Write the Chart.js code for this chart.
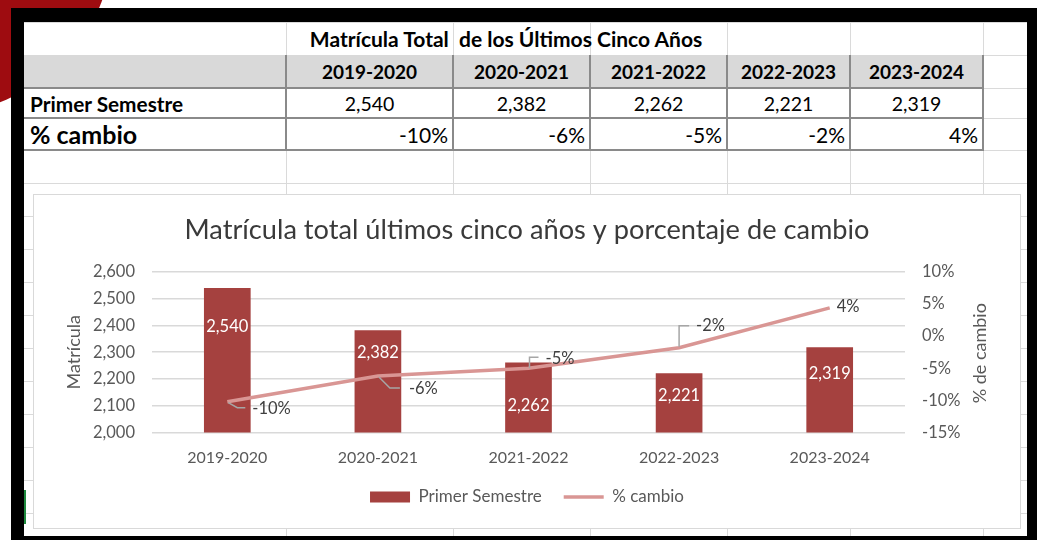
<!DOCTYPE html>
<html>
<head>
<meta charset="utf-8">
<script src="https://cdn.jsdelivr.net/npm/chart.js@4.4.1/dist/chart.umd.min.js"></script>
<style>
  html, body { margin:0; padding:0; width:1037px; height:540px; overflow:hidden; background:#fff; font-family: Lato, "Open Sans", sans-serif; }
  .abs { position:absolute; }
  #circle { left:-233px; top:-233px; width:346px; height:346px; border-radius:50%; background:#9e0c10; }
  #frame { left:11px; top:8px; width:1026px; height:532px; background:#000; }
  #sheet { left:24px; top:22px; width:1003px; height:514px; background:#fff; overflow:hidden; }
  .gl { position:absolute; background:#dadada; }
  .bd { position:absolute; background:#8a8a8a; }
  .cell { position:absolute; color:#000; white-space:pre; display:flex; align-items:center; box-sizing:border-box; }
  #chartbox { left:33px; top:194px; width:986px; height:333px; border:1px solid #d9d9d9; background:#fff; }
  #chart { position:absolute; left:34px; top:195px; }
</style>
</head>
<body>
<div id="circle" class="abs"></div>
<div id="frame" class="abs"></div>
<div id="sheet" class="abs"></div>
<div id="chartbox" class="abs"></div>
<canvas id="chart" width="986" height="333"></canvas>
<script>
// ---------------- DATA ----------------
const categories = ['2019-2020', '2020-2021', '2021-2022', '2022-2023', '2023-2024'];
const enrollment = [2540, 2382, 2262, 2221, 2319];          // Primer Semestre
const pctChange  = [-10.2, -6.2, -5.0, -1.8, 4.4];            // % cambio (exact)
const pctLabels  = ['-10%', '-6%', '-5%', '-2%', '4%'];       // % cambio (shown)
const leftTicks  = [2000, 2100, 2200, 2300, 2400, 2500, 2600];
const rightTicks = [-15, -10, -5, 0, 5, 10];

const tableTitle = 'Matrícula Total  de los Últimos Cinco Años';
const chartTitle = 'Matrícula total últimos cinco años y porcentaje de cambio';
const rowNames   = ['Primer Semestre', '% cambio'];
const seriesNames = ['Primer Semestre', '% cambio'];
const leftTitle  = 'Matrícula';
const rightTitle = '% de cambio';

// ---------------- STYLE / LAYOUT ----------------
const FONT = 'Lato, "Open Sans", sans-serif';
const barColor  = '#a5413f';
const lineColor = '#d99694';
const tickColor = '#595959';
const barLabelDrop = [39, 22, 43, 22, 27];  // label offset below bar top (px)
const lineLabelLayout = [
  { leader: [[1,1],[10,6],[18,6]],   dx: 25, dy: 7 },
  { leader: [[1,1],[12,12],[22,12]], dx: 31, dy: 13 },
  { leader: [[1,0],[1,-11],[10,-11]], dx: 17, dy: -10 },
  { leader: [[0,-1],[0,-22],[10,-22]], dx: 17, dy: -22 },
  { leader: null, dx: 7, dy: -1 }
];

const fmt = v => v.toLocaleString('en-US');

// ---------------- SPREADSHEET ----------------
const sheet = document.getElementById('sheet');
const OX = 24, OY = 22;
const colX = [24, 286, 453, 590, 727, 850, 983, 1027];
function addDiv(cls, x, y, w, h, parent) {
  const d = document.createElement('div');
  d.className = cls;
  d.style.left = (x - OX) + 'px'; d.style.top = (y - OY) + 'px';
  d.style.width = w + 'px'; d.style.height = h + 'px';
  (parent || sheet).appendChild(d);
  return d;
}
// light sheet gridlines
for (let y = 183; y < 540; y += 33) addDiv('gl', 24, y, 1003, 1);
[22, 55, 88, 118, 150].forEach(y => addDiv('gl', 24, y, 1003, 1));
colX.slice(1, 7).forEach(x => addDiv('gl', x, 22, 1, 520));
// header band
const hb = addDiv('', 24, 55, 959, 33); hb.style.position = 'absolute'; hb.style.background = '#d9d9d9';
// dark borders
[88, 118, 150].forEach(y => addDiv('bd', 24, y - 1, 959, 2));
colX.slice(1, 7).forEach(x => addDiv('bd', x - 1, 55, 2, 96));
// green marker
const gm = addDiv('', 24, 490, 2, 34); gm.style.position = 'absolute'; gm.style.background = '#1e8a3e';

function addText(txt, x, y, w, h, css) {
  const d = addDiv('cell', x, y, w, h);
  d.textContent = txt;
  Object.assign(d.style, css);
  return d;
}
addText(tableTitle, 256, 22, 500, 33, { justifyContent:'center', fontWeight:'bold', fontSize:'21px' });
categories.forEach((c, i) => {
  addText(c, colX[i+1], 55, colX[i+2]-colX[i+1], 33, { justifyContent:'center', fontWeight:'bold', fontSize:'19px' });
  addText(fmt(enrollment[i]), colX[i+1], 88, colX[i+2]-colX[i+1], 30, { justifyContent:'center', fontSize:'19.5px' });
  addText(pctLabels[i], colX[i+1], 118, colX[i+2]-colX[i+1], 32, { justifyContent:'flex-end', paddingRight:'5px', fontSize:'21px' });
});
addText(rowNames[0], 30, 88, 250, 30, { fontWeight:'bold', fontSize:'20.8px' });
addText(rowNames[1], 30, 118, 250, 32, { fontWeight:'bold', fontSize:'25px' });

// ---------------- CHART ----------------
const labelPlugin = {
  id: 'customLabels',
  afterDatasetsDraw(chart) {
    const ctx = chart.ctx;
    const bars = chart.getDatasetMeta(0).data;
    const pts = chart.getDatasetMeta(1).data;
    ctx.save();
    ctx.font = '16.5px ' + FONT;
    ctx.textBaseline = 'middle';
    ctx.textAlign = 'center';
    ctx.fillStyle = '#ffffff';
    bars.forEach((b, i) => ctx.fillText(fmt(enrollment[i]), b.x, b.y + barLabelDrop[i]));
    pts.forEach((p, i) => {
      const L = lineLabelLayout[i];
      if (L.leader) {
        ctx.beginPath();
        ctx.strokeStyle = '#a6a6a6';
        ctx.lineWidth = 1.5;
        L.leader.forEach((q, k) => k ? ctx.lineTo(p.x + q[0], p.y + q[1]) : ctx.moveTo(p.x + q[0], p.y + q[1]));
        ctx.stroke();
      }
      ctx.textAlign = 'left';
      ctx.fillStyle = '#404040';
      ctx.fillText(pctLabels[i], p.x + L.dx, p.y + L.dy);
    });
    // right axis title (reads bottom-to-top)
    const ca = chart.chartArea;
    ctx.translate(946, (ca.top + ca.bottom) / 2 + 1);
    ctx.rotate(-Math.PI / 2);
    ctx.textAlign = 'center';
    ctx.fillStyle = tickColor;
    ctx.font = '18px ' + FONT;
    ctx.fillText(rightTitle, 0, 0);
    ctx.restore();
  }
};

new Chart(document.getElementById('chart'), {
  type: 'bar',
  data: {
    labels: categories,
    datasets: [
      {
        label: seriesNames[0],
        data: enrollment,
        backgroundColor: barColor,
        borderWidth: 0,
        yAxisID: 'y',
        categoryPercentage: 1,
        barPercentage: 0.31,
        order: 1
      },
      {
        type: 'line',
        label: seriesNames[1],
        data: pctChange,
        borderColor: lineColor,
        backgroundColor: lineColor,
        borderWidth: 3.5,
        pointRadius: 0,
        pointBorderWidth: 3.5,
        pointBorderColor: lineColor,
        tension: 0,
        yAxisID: 'y1',
        order: 0
      }
    ]
  },
  options: {
    responsive: false,
    animation: false,
    devicePixelRatio: 1,
    layout: { padding: { left: 0, right: 0, top: 0, bottom: 12.5 } },
    plugins: {
      tooltip: { enabled: false },
      title: {
        display: true,
        text: chartTitle,
        color: '#3a3a3a',
        font: { family: FONT, size: 27.2, weight: 'normal' },
        padding: { top: 18.7, bottom: 25.6 }
      },
      legend: {
        position: 'bottom',
        labels: {
          color: tickColor,
          font: { family: FONT, size: 17 },
          usePointStyle: true,
          pointStyleWidth: 40,
          boxWidth: 40,
          boxHeight: 11,
          padding: 22,
          generateLabels(chart) {
            const items = Chart.defaults.plugins.legend.labels.generateLabels(chart);
            items.forEach(it => {
              if (it.datasetIndex === 0) { it.pointStyle = 'rect'; it.lineWidth = 0; it.fillStyle = barColor; it.strokeStyle = barColor; }
              else { it.pointStyle = 'line'; it.lineWidth = 3.5; it.strokeStyle = lineColor; it.fillStyle = lineColor; }
            });
            return items.sort((a, b) => a.datasetIndex - b.datasetIndex);
          }
        }
      }
    },
    scales: {
      x: {
        grid: { display: false, drawTicks: false },
        border: { display: false },
        ticks: { color: tickColor, font: { family: FONT, size: 16 }, padding: 16, maxRotation: 0 },
        afterFit(s) { s.height = 34; }
      },
      y: {
        position: 'left',
        min: leftTicks[0],
        max: leftTicks[leftTicks.length - 1],
        afterBuildTicks(s) { s.ticks = leftTicks.map(v => ({ value: v })); },
        grid: { color: '#d9d9d9', lineWidth: 1.5, drawTicks: false },
        border: { display: false },
        ticks: { color: tickColor, font: { family: FONT, size: 16.5 }, padding: 17, callback: v => fmt(v) },
        title: { display: true, text: leftTitle, color: tickColor, font: { family: FONT, size: 18 }, padding: { top: 29.7, bottom: 0 } },
        afterFit(s) { s.width = 118; }
      },
      y1: {
        position: 'right',
        min: rightTicks[0],
        max: rightTicks[rightTicks.length - 1],
        afterBuildTicks(s) { s.ticks = rightTicks.map(v => ({ value: v })); },
        grid: { display: false, drawTicks: false },
        border: { display: false },
        ticks: { color: tickColor, font: { family: FONT, size: 16.5 }, padding: 17, callback: v => v + '%' },
        afterFit(s) { s.width = 115; }
      }
    }
  },
  plugins: [labelPlugin]
});
</script>
</body>
</html>
